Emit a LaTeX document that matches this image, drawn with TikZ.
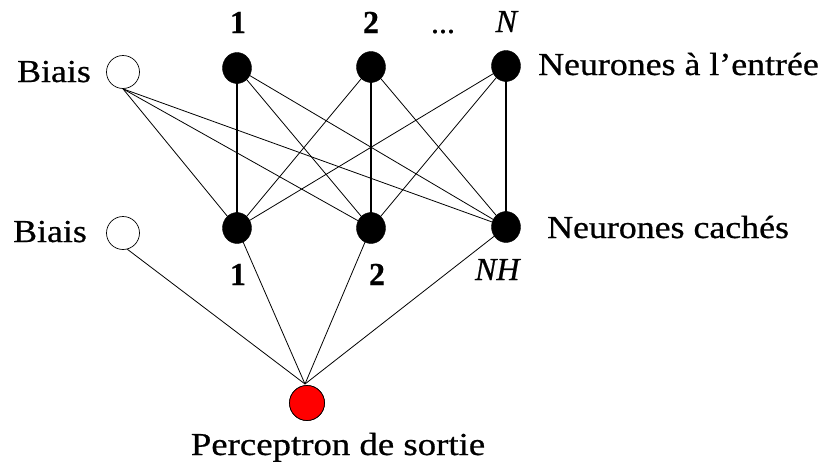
\documentclass[tikz,border=0pt]{standalone}
\usepackage{fontspec}
\usepackage{graphicx}
\usetikzlibrary{shapes.geometric}
\setmainfont{Liberation Serif}[FakeBold=0.6]
\newcommand{\wtxt}[1]{\scalebox{1.12}[1]{#1}}
\begin{document}
\begin{tikzpicture}[x=1pt,y=-1pt,
  neuron/.style={ellipse,fill=black,draw=black,inner sep=0pt,minimum width=29pt,minimum height=31pt},
  biasnode/.style={circle,fill=white,draw=black,line width=0.7pt,inner sep=0pt,minimum size=33pt},
  outnode/.style={circle,fill=red,draw=black,line width=0.7pt,inner sep=0pt,minimum size=35pt},
  lbl/.style={font=\fontsize{32}{36}\selectfont,inner sep=0pt,anchor=base},
  edge/.style={line width=0.8pt},
  vedge/.style={line width=1.4pt}]
\useasboundingbox (0,0) rectangle (825,466);
\fill[white] (0,0) rectangle (825,466);
% nodes
\node[biasnode] (b1) at (123,72) {};
\node[biasnode] (b2) at (123,233) {};
\coordinate (i1) at (237,68);
\coordinate (i2) at (371,67);
\coordinate (iN) at (506,66);
\coordinate (h1) at (237,228);
\coordinate (h2) at (371,228);
\coordinate (hN) at (506,227);
\node[outnode] (o) at (307,403) {};
% edges
\foreach \a in {i1,i2,iN}{
  \foreach \b in {h1,h2,hN}{
    \draw[edge] (\a) -- (\b);
  }
}
\draw[vedge] (i1) -- (h1);
\draw[vedge] (i2) -- (h2);
\draw[vedge] (iN) -- (hN);
\foreach \b in {h1,h2,hN}{
  \draw[edge] (b1.south) -- (\b);
}
\coordinate (otop) at (305,384);
\draw[edge] (b2.-75) -- (otop);
\foreach \b in {h1,h2,hN}{
  \draw[edge] (\b) -- (otop);
}
\node[neuron] (n1) at (i1) {};
\node[neuron] (n2) at (i2) {};
\node[neuron] (nN) at (iN) {};
\node[neuron] (m1) at (h1) {};
\node[neuron] (m2) at (h2) {};
\node[neuron] (mN) at (hN) {};
\node[outnode] at (o) {};
% labels
\node[lbl] (tb1) at (54,82) {\wtxt{Biais}};
\node[lbl] (tb2) at (50,242) {\wtxt{Biais}};
\node[lbl] (t1) at (238,33) {\textbf{1}};
\node[lbl] (t2) at (371,33) {\textbf{2}};
\node[lbl] (tdots) at (443,33) {...};
\node[lbl] (tN) at (507,32) {\textit{N}};
\node[lbl,anchor=base west] (tin) at (538,75) {\wtxt{Neurones à l\symbol{39}entrée}};
\node[lbl,anchor=base west] (thid) at (547,238) {\wtxt{Neurones cachés}};
\node[lbl] (u1) at (238,285) {\textbf{1}};
\node[lbl] (u2) at (377,285) {\textbf{2}};
\node[lbl] (uN) at (498,280) {\textit{NH}};
\node[lbl] (tout) at (338,455) {\scalebox{1.15}[1]{Perceptron de sortie}};
\end{tikzpicture}
\end{document}
